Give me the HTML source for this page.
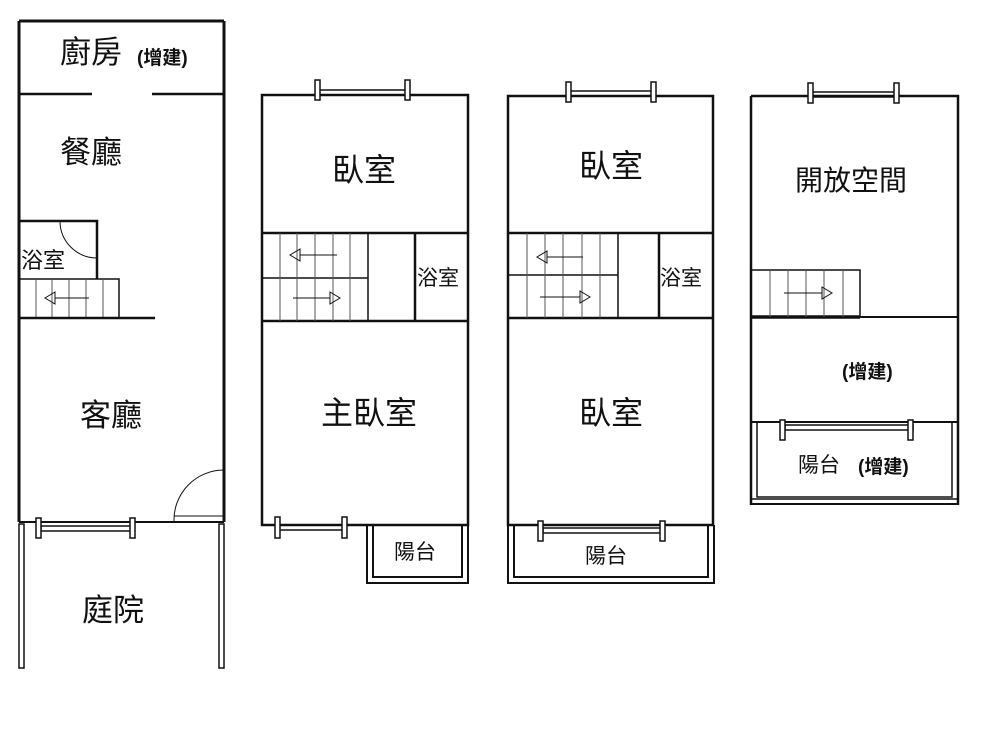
<!DOCTYPE html>
<html><head><meta charset="utf-8"><style>
html,body{margin:0;padding:0;background:#fff;}
svg text{font-family:"Liberation Sans","Noto Sans CJK TC",sans-serif;fill:#111;}
</style></head><body>
<svg width="1000" height="750" viewBox="0 0 1000 750" xmlns="http://www.w3.org/2000/svg">
<g stroke="#111" fill="none">
<!-- Plan 1 -->
<path d="M19 21 V522 M224 21 V522 M19 21 H224" stroke-width="3"/>
<path d="M19 94 H92 M152 94 H224" stroke-width="2.5"/>
<path d="M19 221 H97 V279" stroke-width="2.5"/>
<path d="M60 221 A37 37 0 0 0 97 258" stroke-width="1"/>
<rect x="19" y="279" width="100" height="39" stroke-width="1.5"/>
<path d="M36 279V318 M52 279V318 M69 279V318 M86 279V318 M103 279V318" stroke-width="1" stroke="#555"/>
<path d="M89 298 H55" stroke-width="1"/>
<path d="M55 292 L45 298 L55 304 Z" stroke-width="1"/>
<path d="M19 318 H155" stroke-width="2.5"/>
<path d="M19 522 H224" stroke-width="2"/>
<path d="M174 522 A50 50 0 0 1 224 470" stroke-width="1"/>
<path d="M174 516 H224" stroke-width="1"/>
<rect x="41" y="526" width="91" height="5" stroke-width="1.5"/>
<rect x="36" y="518" width="5" height="20" fill="#fff" stroke-width="1.5"/>
<rect x="130" y="518" width="5" height="20" fill="#fff" stroke-width="1.5"/>
<rect x="19" y="524" width="5" height="144" stroke-width="1.5"/>
<rect x="219" y="524" width="5" height="144" stroke-width="1.5"/>
<!-- Plan 2 -->
<rect x="262" y="95" width="206" height="430" stroke-width="2.5"/>
<path d="M262 233 H468 M262 321 H468 M415 233 V321" stroke-width="2.5"/>
<path d="M262 278 H368 M368 233 V321" stroke-width="1.5"/>
<path d="M280 233V321 M297 233V321 M315 233V321 M333 233V321 M350 233V321" stroke-width="1" stroke="#555"/>
<path d="M337 255 H300 M300 249 L290 255 L300 261 Z M293 298 H330 M330 292 L340 298 L330 304 Z" stroke-width="1"/>
<rect x="319" y="90" width="88" height="5" stroke-width="1.5"/>
<rect x="315" y="80" width="5" height="20" fill="#fff" stroke-width="1.5"/>
<rect x="405" y="80" width="5" height="20" fill="#fff" stroke-width="1.5"/>
<rect x="279" y="525" width="64" height="5" stroke-width="1.5"/>
<rect x="275" y="517" width="5" height="21" fill="#fff" stroke-width="1.5"/>
<rect x="342" y="517" width="5" height="21" fill="#fff" stroke-width="1.5"/>
<path d="M367 525 V583 H468 V525 M373 525 V577 H462 V525" stroke-width="2"/>
<!-- Plan 3 -->
<rect x="508" y="96" width="205" height="429" stroke-width="2.5"/>
<path d="M508 233 H713 M508 318 H713 M659 233 V318" stroke-width="2.5"/>
<path d="M508 275 H618 M618 233 V318" stroke-width="1.5"/>
<path d="M527 233V318 M545 233V318 M563 233V318 M582 233V318 M600 233V318" stroke-width="1" stroke="#555"/>
<path d="M583 257 H547 M547 251 L537 257 L547 263 Z M540 297 H580 M580 291 L590 297 L580 303 Z" stroke-width="1"/>
<rect x="570" y="91" width="83" height="5" stroke-width="1.5"/>
<rect x="566" y="82" width="5" height="20" fill="#fff" stroke-width="1.5"/>
<rect x="651" y="82" width="5" height="20" fill="#fff" stroke-width="1.5"/>
<path d="M508 525 V583 H714 V525 M514 525 V577 H708 V525" stroke-width="2"/>
<rect x="543" y="528" width="120" height="5" stroke-width="1.5"/>
<rect x="538" y="521" width="5" height="20" fill="#fff" stroke-width="1.5"/>
<rect x="660" y="521" width="5" height="20" fill="#fff" stroke-width="1.5"/>
<!-- Plan 4 -->
<path d="M751 96 H958 V505 M751 96 V505" stroke-width="2.5"/>
<path d="M751 317 H958" stroke-width="2"/>
<path d="M751 317 H860" stroke-width="3.5"/>
<rect x="751" y="270" width="109" height="47" stroke-width="1.5"/>
<path d="M770 270V317 M788 270V317 M806 270V317 M824 270V317 M843 270V317" stroke-width="1" stroke="#555"/>
<path d="M784 293 H822 M822 287 L832 293 L822 299 Z" stroke-width="1"/>
<rect x="812" y="92" width="85" height="5" stroke-width="1.5"/>
<rect x="808" y="83" width="5" height="20" fill="#fff" stroke-width="1.5"/>
<rect x="894" y="83" width="5" height="20" fill="#fff" stroke-width="1.5"/>
<path d="M751 422 H958" stroke-width="2"/>
<path d="M757 422 V497 H952 V422" stroke-width="1.5"/>
<path d="M751 504 H958" stroke-width="2"/>
<path d="M751 499 H958" stroke-width="1.5"/>
<rect x="785" y="425" width="128" height="5" stroke-width="1.5"/>
<rect x="780" y="420" width="5" height="20" fill="#fff" stroke-width="1.5"/>
<rect x="908" y="420" width="5" height="20" fill="#fff" stroke-width="1.5"/>
</g>
<g>
<text x="60" y="63" font-size="31">廚房</text>
<text x="137" y="64" font-size="19" font-weight="bold">(增建)</text>
<text x="60" y="163" font-size="31">餐廳</text>
<text x="21" y="268" font-size="22">浴室</text>
<text x="80" y="426" font-size="31">客廳</text>
<text x="82" y="621" font-size="31">庭院</text>
<text x="332" y="181" font-size="32">臥室</text>
<text x="417" y="285" font-size="21">浴室</text>
<text x="321" y="424" font-size="32">主臥室</text>
<text x="394" y="559" font-size="21">陽台</text>
<text x="579" y="177" font-size="32">臥室</text>
<text x="660" y="285" font-size="21">浴室</text>
<text x="579" y="424" font-size="32">臥室</text>
<text x="585" y="563" font-size="21">陽台</text>
<text x="795" y="190" font-size="28">開放空間</text>
<text x="842" y="378" font-size="19" font-weight="bold">(增建)</text>
<text x="798" y="472" font-size="21">陽台</text>
<text x="858" y="473" font-size="19" font-weight="bold">(增建)</text>
</g>
</svg>
</body></html>
